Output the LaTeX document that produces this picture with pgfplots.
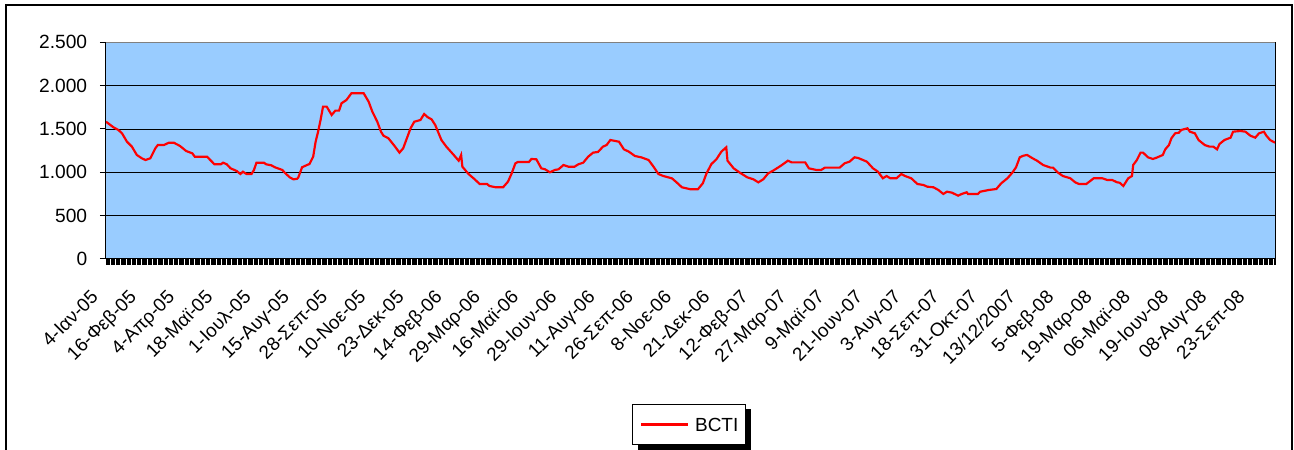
\documentclass[border=0pt]{standalone}
\usepackage{fontspec}
\setmainfont{Liberation Sans}
\usepackage{pgfplots}
\pgfplotsset{compat=1.18}
\definecolor{plotbg}{RGB}{153,204,255}
\begin{document}
\begin{tikzpicture}
\useasboundingbox (0,0) rectangle (776.4pt,270pt);
\draw[line width=0.9pt] (3.6pt,-5pt) -- (3.6pt,267pt) -- (775.2pt,267pt) -- (775.2pt,-5pt);
\fill[black] (382.8pt,0pt) rectangle (450.4pt,24.6pt);
\begin{axis}[
  at={(63.6pt,114.66pt)}, anchor=south west,
  scale only axis, width=701.4pt, height=129.9pt,
  xmin=0, xmax=948, ymin=0, ymax=2500,
  axis background/.style={fill=plotbg},
  axis line style={black, line width=0.6pt},
  ytick={0,500,...,2500},
  ymajorgrids, major grid style={black, line width=0.5pt},
  xtick={0,31,...,930},
  xticklabels={4-Ιαν-05,16-Φεβ-05,4-Απρ-05,18-Μαϊ-05,1-Ιουλ-05,15-Αυγ-05,28-Σεπ-05,10-Νοε-05,23-Δεκ-05,14-Φεβ-06,29-Μαρ-06,16-Μαϊ-06,29-Ιουν-06,11-Αυγ-06,26-Σεπ-06,8-Νοε-06,21-Δεκ-06,12-Φεβ-07,27-Μαρ-07,9-Μαϊ-07,21-Ιουν-07,3-Αυγ-07,18-Σεπ-07,31-Οκτ-07,13/12/2007,5-Φεβ-08,19-Μαρ-08,06-Μαϊ-08,19-Ιουν-08,08-Αυγ-08,23-Σεπ-08},
  minor xtick={0,1,...,948},
  tick align=outside,
  xtick pos=bottom, ytick pos=left,
  major tick length=3.6pt, minor tick length=3.6pt,
  xtick style={black, line width=0.3pt},
  minor tick style={black, line width=0.3pt},
  ytick style={black, line width=0.6pt},
  /pgf/number format/.cd, 1000 sep={.}, assume math mode=true,
  /pgfplots/.cd,
  yticklabel style={font=\fontsize{11.5}{13}\selectfont, anchor=east, inner sep=0pt, xshift=-7.5pt},
  xticklabel style={font=\fontsize{11.3}{13}\selectfont, xshift=-4pt, yshift=-20pt, rotate=45, anchor=base east, inner sep=0pt},
  legend style={at={(0.499,-0.765)}, anchor=center, draw=black, line width=0.6pt, fill=white,
    font=\fontsize{11.4}{13}\selectfont, inner xsep=4.5pt, inner ysep=8pt,
    nodes={inner sep=0pt, text height=8.2pt, text depth=0pt}, column sep=3.6pt},
  legend image code/.code={\draw[#1, line width=1.3pt] (0pt,0pt) -- (28pt,0pt);},
]
\addplot[red, line width=1.3pt] coordinates {
(0,1584)(6,1520)(10,1489)(13,1450)(17,1353)(21,1296)(25,1200)(29,1162)(32,1142)(36,1162)(40,1277)(42,1315)(47,1315)(51,1342)(55,1342)(60,1304)(65,1246)(70,1219)(72,1180)(82,1180)(84,1150)(88,1092)(93,1092)(95,1111)(98,1092)(101,1046)(106,1015)(109,980)(111,1007)(114,980)(118,980)(120,1027)(122,1111)(128,1111)(130,1092)(134,1081)(137,1058)(143,1027)(145,995)(149,942)(152,919)(155,925)(156,942)(159,1058)(163,1084)(165,1096)(168,1180)(170,1353)(172,1469)(174,1604)(176,1758)(179,1758)(183,1662)(186,1712)(189,1712)(191,1797)(195,1835)(199,1912)(209,1912)(213,1815)(216,1700)(220,1584)(223,1469)(225,1423)(229,1393)(234,1304)(238,1227)(241,1277)(244,1393)(247,1508)(250,1584)(255,1604)(258,1673)(261,1635)(264,1612)(267,1546)(272,1373)(276,1296)(282,1200)(286,1134)(288,1200)(289,1065)(294,980)(299,919)(303,865)(309,865)(311,842)(316,827)(322,827)(326,892)(329,988)(332,1104)(334,1119)(343,1119)(345,1154)(349,1150)(353,1046)(356,1035)(360,1000)(364,1027)(367,1035)(371,1084)(375,1065)(380,1065)(383,1092)(387,1111)(391,1180)(395,1227)(399,1235)(403,1296)(406,1315)(409,1373)(416,1353)(420,1265)(424,1238)(429,1188)(434,1173)(440,1142)(444,1065)(448,980)(452,957)(459,930)(463,880)(467,827)(474,804)(480,804)(484,873)(487,988)(491,1096)(495,1150)(499,1238)(503,1289)(504,1134)(509,1046)(514,996)(520,942)(525,919)(529,884)(533,919)(537,988)(541,1019)(547,1073)(553,1134)(556,1115)(567,1115)(570,1046)(576,1027)(580,1027)(583,1054)(595,1054)(599,1104)(603,1123)(607,1173)(610,1165)(617,1123)(622,1046)(626,1007)(628,969)(630,931)(633,957)(636,931)(641,931)(645,980)(648,957)(653,931)(658,865)(663,853)(666,834)(671,827)(675,796)(679,750)(682,776)(686,765)(691,730)(694,750)(698,769)(699,750)(707,750)(709,776)(716,796)(722,807)(726,873)(731,931)(735,996)(738,1058)(741,1173)(744,1192)(747,1200)(751,1165)(755,1134)(760,1084)(766,1054)(768,1054)(772,996)(776,957)(782,931)(786,884)(789,865)(795,865)(801,931)(808,931)(812,911)(816,911)(820,884)(822,880)(825,842)(829,931)(832,957)(833,1084)(836,1142)(839,1227)(841,1227)(845,1173)(849,1154)(852,1169)(857,1200)(859,1265)(862,1315)(864,1393)(867,1450)(870,1457)(872,1489)(877,1508)(879,1469)(883,1450)(886,1373)(891,1315)(895,1296)(898,1296)(901,1265)(903,1327)(907,1373)(912,1400)(914,1469)(920,1477)(924,1469)(928,1423)(932,1400)(935,1450)(939,1469)(941,1423)(944,1373)(948,1342)
};
\addlegendentry{BCTI}
\draw[gray, line width=0.6pt] (rel axis cs:0,1) -- (rel axis cs:1,1);
\end{axis}
\end{tikzpicture}
\end{document}
